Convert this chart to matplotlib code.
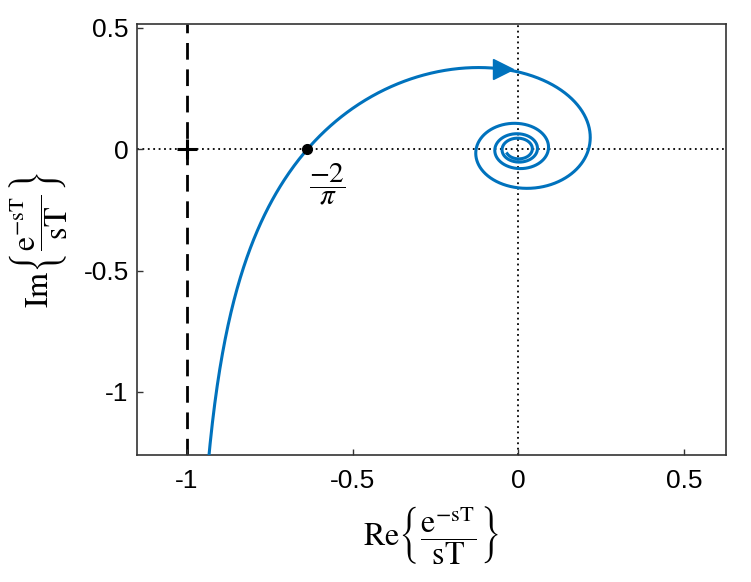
import numpy as np
import matplotlib.pyplot as plt

plt.rcParams['font.family'] = ['Liberation Sans', 'DejaVu Sans']
plt.rcParams['mathtext.fontset'] = 'stix'
plt.rcParams['axes.unicode_minus'] = False

# normalised frequency range wT shown in the plot
wT_start = 0.5
wT_stop = 26.2
wT_arrow = 3.0        # where the direction arrow sits
n_pts = 4000

x_ticks = [-1, -0.5, 0, 0.5]
y_ticks = [-1, -0.5, 0, 0.5]
x_lim = [-1.151, 0.627]
y_lim = [-1.26, 0.516]

blue = '#0072BD'

# G(jw) = e^{-jwT} / (jwT)
wT = np.linspace(wT_start, wT_stop, n_pts)
G = np.exp(-1j * wT) / (1j * wT)
G_arrow = np.exp(-1j * wT_arrow) / (1j * wT_arrow)
cross = -2 / np.pi

fig = plt.figure(figsize=(7.51, 5.82), dpi=100)
ax = fig.add_axes([0.1824, 0.2182, 0.9667 - 0.1824, 0.9588 - 0.2182])

ax.axhline(0, color='k', lw=1.3, ls=(0, (1, 2)), zorder=1)
ax.axvline(0, color='k', lw=1.3, ls=(0, (1, 2)), zorder=1)
ax.axvline(-1, color='k', lw=2, ls=(0, (6, 3.5)), zorder=1)

ax.plot(G.real, G.imag, color=blue, lw=2.2, zorder=3)
ax.plot(G_arrow.real, G_arrow.imag, marker='>', color=blue, ms=14, zorder=4)

ax.plot(-1, 0, marker='+', color='k', ms=15, mew=2.2, zorder=4)
ax.plot(cross, 0, marker='o', color='k', ms=7, zorder=5)
ax.text(cross + 0.06, -0.145, r'$\dfrac{-2}{\pi}$', fontsize=21,
        ha='center', va='center')

ax.set_xlim(x_lim)
ax.set_ylim(y_lim)
ax.set_xticks(x_ticks)
ax.set_yticks(y_ticks)
ax.set_xticklabels(['-1', '-0.5', '0', '0.5'])
ax.set_yticklabels(['-1', '-0.5', '0', '0.5'])
ax.tick_params(direction='in', length=4, width=1, labelsize=19,
               colors='#333333', labelcolor='k', top=False, right=False)
ax.tick_params(axis='x', pad=10)
ax.tick_params(axis='y', pad=6)
for s in ax.spines.values():
    s.set_color('#333333')
    s.set_linewidth(1.2)

ax.set_xlabel(r'$\mathrm{Re}\left\{\dfrac{\mathrm{e}^{-\mathrm{sT}}}{\mathrm{sT}}\right\}$',
              fontsize=23, labelpad=8)
ax.set_ylabel(r'$\mathrm{Im}\left\{\dfrac{\mathrm{e}^{-\mathrm{sT}}}{\mathrm{sT}}\right\}$',
              fontsize=23, labelpad=10)

fig.savefig('out.png', dpi=100)
